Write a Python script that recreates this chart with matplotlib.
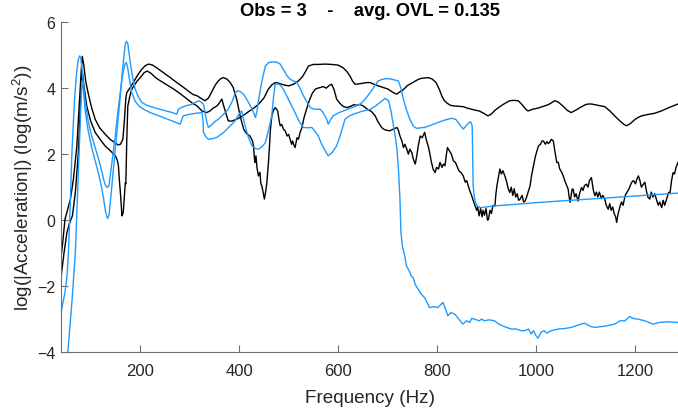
import matplotlib.pyplot as plt

plt.rcParams['font.family'] = ['Liberation Sans', 'DejaVu Sans']
plt.rcParams['mathtext.fontset'] = 'custom'
plt.rcParams['mathtext.rm'] = 'Liberation Sans'
plt.rcParams['mathtext.default'] = 'regular'

# Black response, noisy above ~430 Hz
k1_freq = [40, 44, 48, 53, 59, 65, 72, 77, 81, 83, 86, 90, 96, 102, 109, 118, 129, 139, 149, 155, 160, 165, 168, 171,
           173, 179, 186, 195, 203, 210, 217, 225, 235, 247, 260, 274, 288, 301, 308, 315, 322, 331, 338, 345, 352,
           358, 364, 368, 375, 382, 388, 395, 402, 409, 415, 422, 427, 429, 431, 432, 434, 436, 439, 442, 444, 446,
           449, 451, 454, 456, 459, 461, 463, 466, 470, 473, 476, 478, 481, 483, 486, 490, 493, 497, 500, 503, 506,
           508, 510, 513, 517, 520, 523, 527, 531, 535, 539, 543, 548, 554, 559, 564, 570, 576, 582, 587, 592, 597,
           603, 610, 618, 625, 632, 638, 644, 652, 660, 667, 675, 680, 688, 693, 699, 705, 710, 715, 719, 722, 725,
           729, 732, 735, 739, 742, 745, 749, 752, 756, 759, 762, 764, 766, 770, 775, 778, 782, 785, 788, 792, 796,
           799, 803, 806, 810, 813, 816, 819, 821, 825, 829, 833, 837, 840, 844, 848, 853, 857, 860, 863, 866, 870,
           873, 877, 880, 882, 885, 888, 891, 893, 896, 899, 902, 904, 907, 910, 913, 917, 919, 921, 924, 927, 930,
           933, 937, 940, 944, 947, 950, 953, 956, 959, 962, 965, 968, 972, 975, 978, 981, 984, 988, 991, 995, 999,
           1002, 1005, 1009, 1012, 1015, 1019, 1022, 1025, 1028, 1031, 1035, 1038, 1042, 1045, 1048, 1052, 1055,
           1058, 1062, 1065, 1067, 1069, 1071, 1073, 1075, 1078, 1081, 1085, 1088, 1092, 1095, 1098, 1102, 1105,
           1108, 1112, 1114, 1116, 1119, 1122, 1125, 1128, 1132, 1135, 1139, 1142, 1146, 1149, 1152, 1155, 1158,
           1161, 1163, 1166, 1170, 1173, 1176, 1180, 1184, 1188, 1193, 1197, 1201, 1204, 1207, 1210, 1213, 1217,
           1220, 1223, 1226, 1230, 1233, 1236, 1240, 1244, 1247, 1250, 1254, 1257, 1260, 1264, 1268, 1271, 1274,
           1277, 1280, 1283, 1287]
k1_val = [-1.13, -0.6, 0.03, 0.3, 0.64, 1.24, 2.25, 3.57, 4.57, 4.96, 4.7, 4.2, 3.77, 3.4, 3.06, 2.8, 2.61, 2.45, 2.35,
          2.28, 2.3, 2.45, 3.0, 3.7, 3.87, 4.0, 4.17, 4.4, 4.57, 4.68, 4.73, 4.7, 4.6, 4.47, 4.33, 4.17, 4.02, 3.87,
          3.8, 3.77, 3.7, 3.62, 3.7, 3.9, 4.1, 4.22, 4.3, 4.32, 4.28, 4.17, 4.02, 3.67, 3.16, 2.76, 2.62, 2.55, 2.4,
          2.25, 1.85, 1.75, 1.95, 1.6, 1.34, 1.45, 1.1, 1.04, 0.8, 0.64, 0.9, 1.14, 1.7, 2.15, 2.7, 3.16, 3.35, 3.41,
          3.35, 3.31, 3.0, 2.86, 2.9, 2.75, 2.71, 2.55, 2.6, 2.45, 2.3, 2.4, 2.3, 2.2, 2.5, 2.45, 2.65, 2.81, 3.1,
          3.3, 3.5, 3.67, 3.85, 3.97, 4.0, 4.02, 4.05, 4.0, 4.08, 4.12, 3.95, 3.67, 3.55, 3.45, 3.41, 3.45, 3.5,
          3.48, 3.51, 3.45, 3.35, 3.3, 3.16, 3.0, 2.81, 2.75, 2.72, 2.71, 2.75, 2.78, 2.81, 2.72, 2.55, 2.4, 2.2,
          2.3, 2.15, 2.0, 2.15, 2.05, 1.85, 1.7, 1.95, 2.25, 2.4, 2.55, 2.5, 2.66, 2.45, 2.25, 2.05, 1.8, 1.55,
          1.44, 1.6, 1.55, 1.75, 1.6, 1.7, 1.65, 2.0, 2.2, 2.1, 2.0, 1.8, 1.75, 1.65, 1.5, 1.45, 1.34, 1.15, 1.2,
          1.04, 0.9, 0.74, 0.6, 0.43, 0.3, 0.4, 0.13, 0.35, 0.1, 0.3, 0.15, 0.35, 0.0, 0.03, 0.3, 0.2, 0.45, 0.43,
          0.8, 1.04, 1.3, 1.55, 1.4, 1.5, 1.34, 1.2, 0.95, 0.84, 1.0, 0.75, 0.95, 0.7, 0.8, 0.6, 0.64, 0.75, 0.55,
          0.58, 0.7, 0.85, 1.04, 1.35, 1.65, 1.95, 2.1, 2.25, 2.3, 2.4, 2.4, 2.3, 2.38, 2.32, 2.37, 2.45, 2.4, 2.1,
          1.75, 1.75, 1.55, 1.45, 1.34, 1.2, 1.05, 0.94, 0.7, 0.54, 0.75, 0.94, 0.94, 0.7, 0.8, 0.58, 0.8, 0.99,
          0.9, 1.05, 1.09, 1.0, 1.2, 1.29, 1.1, 0.9, 0.74, 0.85, 0.7, 0.85, 0.65, 0.75, 0.64, 0.45, 0.33, 0.5, 0.3,
          0.4, 0.2, 0.1, -0.07, 0.2, 0.43, 0.55, 0.45, 0.74, 0.85, 0.95, 1.14, 1.2, 1.1, 1.25, 1.34, 1.2, 1.0,
          1.09, 1.15, 0.9, 0.7, 0.64, 0.85, 0.7, 0.8, 0.6, 0.45, 0.55, 0.38, 0.6, 0.45, 0.64, 0.84, 0.84, 1.2,
          1.44, 1.4, 1.6, 1.75]

# Black response, smooth, stays high
k2_freq = [40, 46, 52, 57, 63, 69, 75, 78, 81, 83, 86, 92, 100, 109, 119, 129, 140, 150, 154, 156, 158, 160, 162, 163,
           165, 166, 168, 170, 171, 173, 175, 179, 183, 193, 203, 208, 214, 222, 231, 241, 254, 268, 281, 295, 305,
           315, 325, 334, 340, 348, 355, 360, 365, 370, 375, 378, 385, 393, 402, 412, 420, 430, 439, 450, 459, 466,
           473, 480, 490, 500, 510, 520, 528, 534, 540, 550, 560, 574, 587, 600, 610, 618, 624, 629, 634, 642, 650,
           658, 665, 672, 680, 691, 700, 708, 715, 719, 722, 726, 729, 735, 740, 745, 752, 760, 766, 775, 782, 790,
           798, 805, 810, 815, 820, 827, 835, 845, 853, 860, 870, 878, 885, 893, 903, 910, 917, 925, 935, 947, 955,
           964, 972, 980, 984, 993, 1005, 1015, 1025, 1038, 1045, 1055, 1063, 1071, 1080, 1090, 1100, 1105, 1112,
           1125, 1139, 1150, 1159, 1170, 1178, 1183, 1190, 1200, 1206, 1213, 1225, 1240, 1255, 1270, 1287]
k2_val = [-1.74, -1.0, -0.37, -0.1, 0.13, 0.84, 2.05, 3.06, 4.1, 4.52, 4.1, 3.46, 3.0, 2.66, 2.45, 2.25, 2.1, 1.95,
          1.8, 1.65, 1.2, 0.84, 0.4, 0.13, 0.2, 0.28, 0.7, 1.14, 1.1, 2.5, 3.46, 3.75, 3.97, 4.2, 4.37, 4.47, 4.52,
          4.45, 4.32, 4.22, 4.1, 3.97, 3.83, 3.67, 3.55, 3.46, 3.31, 3.26, 3.3, 3.4, 3.46, 3.55, 3.67, 3.4, 3.15,
          3.01, 3.0, 3.05, 3.11, 3.21, 3.3, 3.4, 3.51, 3.7, 3.97, 4.1, 4.17, 4.15, 4.1, 4.07, 4.12, 4.22, 4.35,
          4.5, 4.67, 4.72, 4.72, 4.73, 4.72, 4.7, 4.62, 4.5, 4.37, 4.22, 4.12, 4.13, 4.15, 4.17, 4.17, 4.12, 4.08,
          4.02, 3.98, 3.9, 3.84, 3.82, 3.86, 3.9, 3.92, 4.0, 4.08, 4.12, 4.18, 4.25, 4.29, 4.31, 4.32, 4.28, 4.17,
          3.95, 3.75, 3.62, 3.55, 3.48, 3.46, 3.45, 3.44, 3.4, 3.36, 3.33, 3.31, 3.25, 3.16, 3.22, 3.33, 3.42,
          3.52, 3.62, 3.63, 3.62, 3.5, 3.35, 3.31, 3.36, 3.4, 3.45, 3.5, 3.62, 3.58, 3.45, 3.33, 3.26, 3.33, 3.42,
          3.5, 3.52, 3.52, 3.48, 3.44, 3.3, 3.16, 3.0, 2.9, 2.86, 2.92, 3.05, 3.11, 3.16, 3.2, 3.24, 3.32, 3.42,
          3.52]

# Blue response that falls off near 870 Hz
b1_freq = [48, 54, 62, 69, 74, 79, 82, 85, 89, 95, 102, 110, 116, 122, 126, 130, 134, 137, 140, 145, 150, 155, 160,
           164, 167, 170, 172, 175, 178, 180, 185, 190, 196, 203, 215, 230, 250, 265, 274, 276, 277, 284, 291, 304,
           312, 318, 323, 328, 332, 335, 338, 345, 352, 358, 368, 378, 386, 392, 396, 402, 410, 417, 423, 428, 433,
           436, 440, 443, 448, 453, 460, 470, 477, 483, 490, 497, 503, 510, 517, 523, 530, 537, 544, 550, 557, 564,
           570, 577, 580, 585, 590, 600, 611, 622, 633, 644, 652, 659, 665, 673, 681, 690, 698, 706, 714, 722, 727,
           732, 738, 745, 752, 759, 767, 775, 788, 802, 815, 830, 838, 843, 848, 853, 858, 864, 868, 871, 872, 873,
           875, 877, 880, 887, 900, 914, 950, 1000, 1048, 1100, 1150, 1200, 1250, 1287]
b1_val = [-5.0, -3.96, -2.49, -0.98, 1.04, 3.06, 4.22, 3.95, 3.3, 2.7, 2.2, 1.75, 1.4, 1.0, 0.65, 0.25, 0.05, 0.15,
          0.6, 1.4, 2.2, 3.0, 3.8, 4.5, 4.95, 5.35, 5.42, 5.35, 5.0, 4.78, 4.3, 3.97, 3.75, 3.57, 3.47, 3.4, 3.32,
          3.26, 3.21, 3.3, 3.36, 3.42, 3.46, 3.51, 3.57, 3.62, 3.58, 3.51, 3.2, 2.95, 2.81, 2.9, 3.0, 3.06, 3.2,
          3.36, 3.6, 3.85, 3.92, 3.9, 3.8, 3.62, 3.46, 3.3, 3.11, 3.3, 3.7, 3.97, 4.35, 4.67, 4.78, 4.8, 4.78,
          4.73, 4.55, 4.37, 4.27, 4.22, 4.17, 4.0, 3.77, 3.58, 3.41, 3.37, 3.36, 3.36, 3.25, 3.06, 2.91, 3.05,
          3.16, 3.25, 3.31, 3.38, 3.44, 3.51, 3.62, 3.75, 3.87, 4.05, 4.22, 4.27, 4.29, 4.28, 4.25, 4.22, 4.0,
          3.67, 3.35, 3.06, 2.85, 2.78, 2.8, 2.81, 2.88, 2.96, 3.03, 3.09, 3.05, 2.96, 2.85, 2.76, 2.85, 2.95,
          2.98, 2.86, 2.0, 1.04, 0.75, 0.58, 0.45, 0.38, 0.4, 0.43, 0.47, 0.53, 0.58, 0.63, 0.68, 0.73, 0.78, 0.82]

# Blue response that collapses near 725 Hz
b2_freq = [40, 44, 48, 52, 55, 58, 62, 65, 67, 71, 75, 78, 80, 83, 86, 89, 95, 102, 110, 116, 122, 126, 130, 134,
           137, 140, 145, 150, 155, 160, 164, 167, 170, 172, 175, 178, 183, 190, 198, 205, 220, 235, 247, 262, 275,
           281, 284, 287, 294, 301, 313, 325, 327, 328, 333, 338, 346, 355, 368, 382, 392, 399, 405, 409, 412, 419,
           426, 432, 439, 446, 453, 459, 466, 470, 473, 478, 483, 490, 496, 505, 513, 521, 530, 540, 547, 553, 560,
           567, 574, 580, 588, 597, 605, 614, 622, 631, 648, 665, 675, 685, 695, 702, 707, 712, 716, 719, 722, 725,
           727, 730, 735, 738, 744, 748, 752, 756, 762, 768, 775, 785, 793, 802, 808, 812, 817, 822, 828, 836, 844,
           852, 860, 866, 870, 876, 885, 890, 896, 905, 916, 925, 935, 950, 960, 970, 977, 985, 990, 995, 1000,
           1004, 1010, 1016, 1022, 1031, 1045, 1060, 1071, 1085, 1098, 1110, 1119, 1135, 1150, 1159, 1170, 1180,
           1189, 1197, 1206, 1220, 1236, 1250, 1267, 1287]
b2_val = [-2.8, -2.5, -2.19, -1.7, -0.98, 0.2, 2.05, 3.0, 3.57, 4.4, 4.88, 4.98, 4.9, 4.5, 4.0, 3.57, 3.0, 2.55,
          2.15, 1.85, 1.5, 1.24, 1.05, 0.99, 1.05, 1.4, 2.0, 2.6, 3.3, 3.9, 4.35, 4.6, 4.75, 4.78, 4.6, 4.3, 3.87,
          3.6, 3.45, 3.38, 3.26, 3.18, 3.11, 3.02, 2.95, 2.91, 3.05, 3.16, 3.19, 3.21, 3.24, 3.26, 3.0, 2.66,
          2.52, 2.45, 2.47, 2.51, 2.65, 2.86, 3.01, 3.2, 3.31, 3.05, 2.86, 2.5, 2.25, 2.18, 2.15, 2.22, 2.35, 2.7,
          3.16, 3.8, 4.12, 4.13, 4.1, 3.95, 3.77, 3.5, 3.26, 3.0, 2.81, 2.8, 2.81, 2.7, 2.55, 2.3, 2.1, 1.95,
          2.05, 2.25, 2.6, 3.06, 3.15, 3.21, 3.3, 3.36, 3.45, 3.57, 3.69, 3.62, 3.3, 2.86, 2.5, 2.15, 1.55, 0.64,
          -0.37, -0.8, -1.1, -1.38, -1.55, -1.69, -1.75, -1.95, -2.1, -2.24, -2.35, -2.65, -2.62, -2.65, -2.55,
          -2.49, -2.7, -2.9, -2.8, -2.85, -3.0, -3.15, -3.05, -3.1, -2.98, -3.0, -3.05, -3.0, -3.05, -3.02,
          -3.05, -3.15, -3.22, -3.3, -3.3, -3.35, -3.35, -3.3, -3.45, -3.35, -3.5, -3.58, -3.4, -3.35, -3.42,
          -3.35, -3.3, -3.28, -3.25, -3.18, -3.12, -3.22, -3.25, -3.22, -3.18, -3.15, -3.05, -3.05, -2.92, -2.98,
          -3.0, -3.05, -3.15, -3.1, -3.08, -3.1]

x_ticks = [200, 400, 600, 800, 1000, 1200]
y_ticks = [-4, -2, 0, 2, 4, 6]

blue = '#1f9bff'

fig = plt.figure(figsize=(6.78, 4.14), dpi=100)
ax = fig.add_axes([0.09, 0.147, 0.91, 0.797])

ax.plot(k2_freq, k2_val, color='black', lw=1.0)
ax.plot(k1_freq, k1_val, color='black', lw=1.0)
ax.plot(b2_freq, b2_val, color=blue, lw=1.0)
ax.plot(b1_freq, b1_val, color=blue, lw=1.0)

ax.set_xlim(40, 1287)
ax.set_ylim(-4, 6)
ax.set_xticks(x_ticks)
ax.set_yticks(y_ticks)

for side in ['top', 'right']:
    ax.spines[side].set_visible(False)
for side in ['left', 'bottom']:
    ax.spines[side].set_color('#6e6e6e')
    ax.spines[side].set_linewidth(0.8)
ax.tick_params(direction='in', length=5, width=0.8, color='#6e6e6e',
               labelsize=12, labelcolor='#262626')
ax.tick_params(axis='x', pad=7.5)
ax.tick_params(axis='y', pad=4, labelsize=11.5)

ax.set_xlabel('Frequency (Hz)', fontsize=13.6, color='#262626', labelpad=8)
ax.set_ylabel('log(|Acceleration|) (log(m/s$^2$))', fontsize=13.6, color='#262626', labelpad=1.5)
ax.set_title('Obs = 3    -    avg. OVL = 0.135', fontsize=13.2, fontweight='bold', pad=5)

fig.savefig('out.png', dpi=100)
